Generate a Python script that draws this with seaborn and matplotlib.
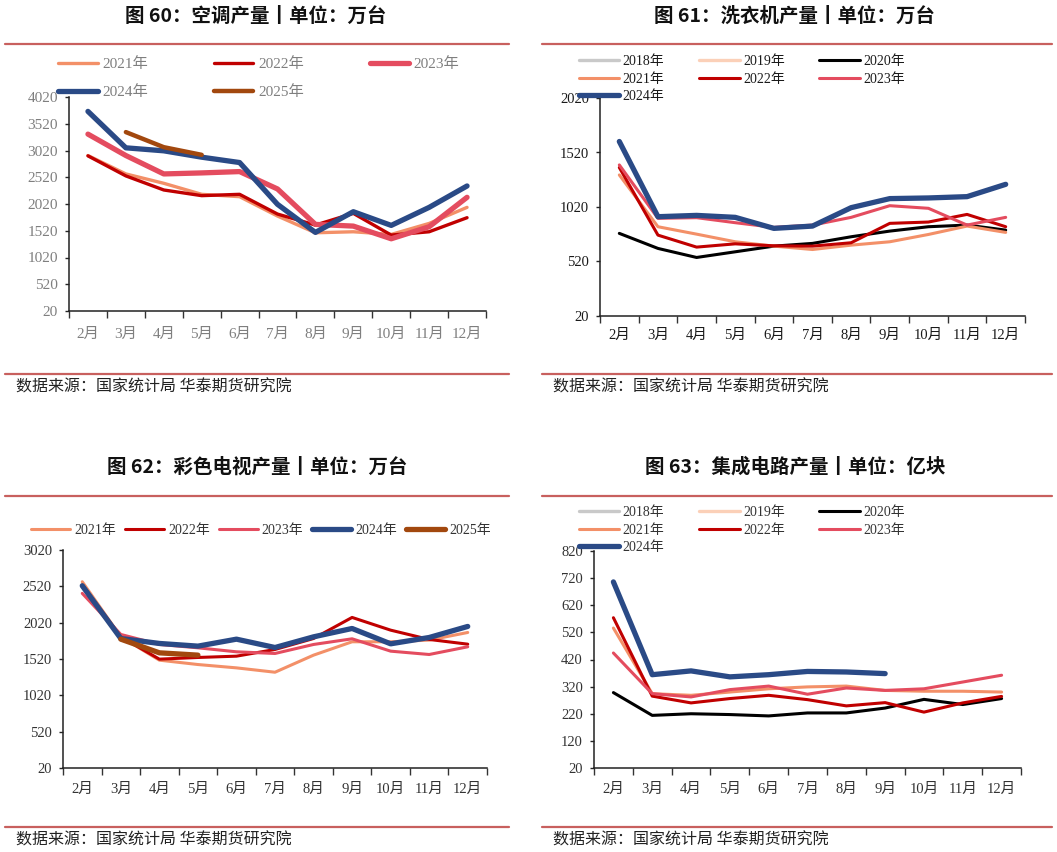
import numpy as np
import pandas as pd
import seaborn as sns
import matplotlib.pyplot as plt
from matplotlib.lines import Line2D

# ------------------------------
# data
# ------------------------------
months = ["2月", "3月", "4月", "5月", "6月", "7月", "8月", "9月", "10月", "11月", "12月"]
nan = np.nan

# 图60 空调产量 (万台)
ac_2021 = [2926, 2582, 2407, 2201, 2157, 1795, 1482, 1501, 1451, 1657, 1957]
ac_2022 = [2920, 2545, 2282, 2176, 2201, 1832, 1626, 1845, 1439, 1501, 1764]
ac_2023 = [3326, 2926, 2582, 2601, 2626, 2301, 1639, 1607, 1370, 1595, 2145]
ac_2024 = [3751, 3070, 3014, 2895, 2795, 2014, 1489, 1876, 1620, 1957, 2357]
ac_2025 = [nan, 3364, 3082, 2939, nan, nan, nan, nan, nan, nan, nan]
ac_yticks = [20, 520, 1020, 1520, 2020, 2520, 3020, 3520, 4020]

# 图61 洗衣机产量 (万台)
wm_2020 = [778, 640, 557, 609, 661, 686, 747, 799, 839, 854, 808]
wm_2021 = [1314, 839, 771, 701, 661, 630, 670, 701, 768, 845, 787]
wm_2022 = [1382, 762, 652, 682, 664, 661, 692, 870, 882, 952, 839]
wm_2023 = [1406, 916, 922, 876, 833, 854, 925, 1032, 1008, 854, 925]
wm_2024 = [1621, 931, 943, 925, 824, 845, 1014, 1097, 1103, 1115, 1228]
wm_yticks = [20, 520, 1020, 1520, 2020]

# 图62 彩色电视产量 (万台)
tv_2021 = [2583, 1825, 1504, 1444, 1398, 1338, 1573, 1757, 1757, 1780, 1885]
tv_2022 = [2537, 1825, 1518, 1541, 1559, 1651, 1802, 2092, 1917, 1789, 1724]
tv_2023 = [2423, 1858, 1720, 1674, 1619, 1596, 1720, 1798, 1628, 1582, 1688]
tv_2024 = [2528, 1802, 1734, 1697, 1793, 1678, 1825, 1940, 1729, 1816, 1968]
tv_2025 = [nan, 1793, 1605, 1573, nan, nan, nan, nan, nan, nan, nan]
tv_yticks = [20, 520, 1020, 1520, 2020, 2520, 3020]

# 图63 集成电路产量 (亿块)
ic_2020 = [298, 214, 220, 217, 212, 223, 223, 241, 273, 254, 276]
ic_2021 = [536, 294, 288, 300, 312, 319, 322, 306, 303, 303, 300]
ic_2022 = [574, 285, 260, 276, 288, 272, 249, 261, 226, 260, 284]
ic_2023 = [444, 294, 282, 309, 322, 292, 315, 306, 312, 337, 362]
ic_2024 = [706, 364, 378, 356, 364, 376, 374, 368, nan, nan, nan]
ic_yticks = [20, 120, 220, 320, 420, 520, 620, 720, 820]

colors = {"2018": "#c9c9c9", "2019": "#fbd0b8", "2020": "#000000", "2021": "#f39068",
          "2022": "#c00000", "2023": "#e44c5f", "2024": "#2a4a86", "2025": "#a2480e"}

sns.set_style("ticks")
plt.rcParams["font.family"] = ["Liberation Serif", "Noto Sans CJK SC"]

W, H = 1057, 852
fig = plt.figure(figsize=(W / 100, H / 100), dpi=100)
SEP = "#c8605e"


def box(l, t, r, b):
    return [l / W, 1 - b / H, (r - l) / W, (b - t) / H]


def hline(y, x0, x1):
    fig.add_artist(Line2D([x0 / W, x1 / W], [1 - y / H, 1 - y / H], color=SEP, lw=1.6))


def row_major(handles, labels, ncol):
    idx = [i for j in range(ncol) for i in range(j, len(handles), ncol)]
    return [handles[i] for i in idx], [labels[i] for i in idx]


def draw_panel(ax, series, yticks, tcol, tsize, xpad, legend_kw, empty=()):
    x = np.arange(len(months))
    for year in empty:
        ax.plot([], [], color=colors[year], lw=2.4, label=year + "年", solid_capstyle="round")
    for year, vals, lw in series:
        v = np.array(vals, dtype=float)
        m = ~np.isnan(v)
        sns.lineplot(x=x[m], y=v[m], ax=ax, color=colors[year], linewidth=lw,
                     label=year + "年", solid_capstyle="round")
    ax.set_xlim(-0.5, len(months) - 0.5)
    ax.set_ylim(yticks[0], yticks[-1])
    ax.set_yticks(yticks)
    ax.set_xticks(np.arange(-0.5, len(months)), labels=[])
    ax.set_xticks(x, labels=months, minor=True)
    ax.tick_params(axis="x", which="major", length=5, width=1, color="#333333")
    ax.tick_params(axis="x", which="minor", length=0, pad=xpad, labelsize=tsize, labelcolor=tcol)
    ax.tick_params(axis="y", length=3, width=1, pad=5, labelsize=tsize, labelcolor=tcol)
    ax.set_xlabel("")
    ax.set_ylabel("")
    for s in ["top", "right"]:
        ax.spines[s].set_visible(False)
    for s in ["left", "bottom"]:
        ax.spines[s].set_color("#222222")
        ax.spines[s].set_linewidth(1.1)
    h, l = ax.get_legend_handles_labels()
    ncol = legend_kw.pop("ncol")
    lx, ly = legend_kw.pop("anchor")
    h, l = row_major(h, l, ncol)
    leg = ax.legend(h, l, ncol=ncol, loc="upper left", bbox_to_anchor=(lx / W, 1 - ly / H),
                    bbox_transform=fig.transFigure, frameon=False, borderpad=0,
                    borderaxespad=0, **legend_kw)
    for t in leg.get_texts():
        t.set_color(tcol)
    leg.set_zorder(5)


title_font = dict(family=["Noto Sans CJK SC"], fontweight="bold", fontsize=14, color="#111111")
src_font = dict(family=["Noto Sans CJK SC"], fontsize=11.5, color="#222222")
src = "数据来源：国家统计局 华泰期货研究院"

# ------------------------------
# 图60 空调
# ------------------------------
ax1 = fig.add_axes(box(69, 97, 486, 311))
draw_panel(ax1, [("2021", ac_2021, 2.4), ("2022", ac_2022, 2.4), ("2023", ac_2023, 3.8),
                 ("2024", ac_2024, 3.8), ("2025", ac_2025, 3.2)],
           ac_yticks, "#7f7f7f", 11, 12,
           dict(ncol=3, anchor=(58, 57), fontsize=11, handlelength=2.6, handletextpad=0.3,
                columnspacing=4.3, labelspacing=0.95))
fig.text(256 / W, 1 - 16 / H, "图 60：空调产量丨单位：万台", ha="center", va="center", **title_font)
hline(44, 5, 509)
hline(374, 5, 509)
fig.text(16 / W, 1 - 387 / H, src, ha="left", va="center", **src_font)

# ------------------------------
# 图61 洗衣机
# ------------------------------
ax2 = fig.add_axes(box(600, 98, 1025, 316))
draw_panel(ax2, [("2020", wm_2020, 2.2), ("2021", wm_2021, 2.2), ("2022", wm_2022, 2.2),
                 ("2023", wm_2023, 2.2), ("2024", wm_2024, 3.8)],
           wm_yticks, "#1a1a1a", 10.5, 9,
           dict(ncol=3, anchor=(579, 55), fontsize=10, handlelength=2.9, handletextpad=0.25,
                columnspacing=2.5, labelspacing=0.33), empty=("2018", "2019"))
fig.text(794 / W, 1 - 16 / H, "图 61：洗衣机产量丨单位：万台", ha="center", va="center", **title_font)
hline(44, 542, 1052)
hline(374, 542, 1052)
fig.text(553 / W, 1 - 387 / H, src, ha="left", va="center", **src_font)

# ------------------------------
# 图62 彩色电视
# ------------------------------
ax3 = fig.add_axes(box(63, 550, 487, 768))
draw_panel(ax3, [("2021", tv_2021, 2.2), ("2022", tv_2022, 2.2), ("2023", tv_2023, 2.2),
                 ("2024", tv_2024, 3.8), ("2025", tv_2025, 3.8)],
           tv_yticks, "#333333", 10.5, 11,
           dict(ncol=5, anchor=(31, 524), fontsize=10, handlelength=2.8, handletextpad=0.3,
                columnspacing=0.65, labelspacing=0.2))
fig.text(257 / W, 1 - 467 / H, "图 62：彩色电视产量丨单位：万台", ha="center", va="center", **title_font)
hline(496, 5, 509)
hline(827, 5, 509)
fig.text(16 / W, 1 - 840 / H, src, ha="left", va="center", **src_font)

# ------------------------------
# 图63 集成电路
# ------------------------------
ax4 = fig.add_axes(box(594, 551, 1021, 768))
draw_panel(ax4, [("2020", ic_2020, 2.2), ("2021", ic_2021, 2.2), ("2022", ic_2022, 2.2),
                 ("2023", ic_2023, 2.2), ("2024", ic_2024, 3.8)],
           ic_yticks, "#333333", 10.5, 11,
           dict(ncol=3, anchor=(579, 506), fontsize=10, handlelength=2.9, handletextpad=0.25,
                columnspacing=2.5, labelspacing=0.33), empty=("2018", "2019"))
fig.text(795 / W, 1 - 467 / H, "图 63：集成电路产量丨单位：亿块", ha="center", va="center", **title_font)
hline(496, 542, 1052)
hline(827, 542, 1052)
fig.text(553 / W, 1 - 840 / H, src, ha="left", va="center", **src_font)

fig.savefig("out.png", dpi=100)
